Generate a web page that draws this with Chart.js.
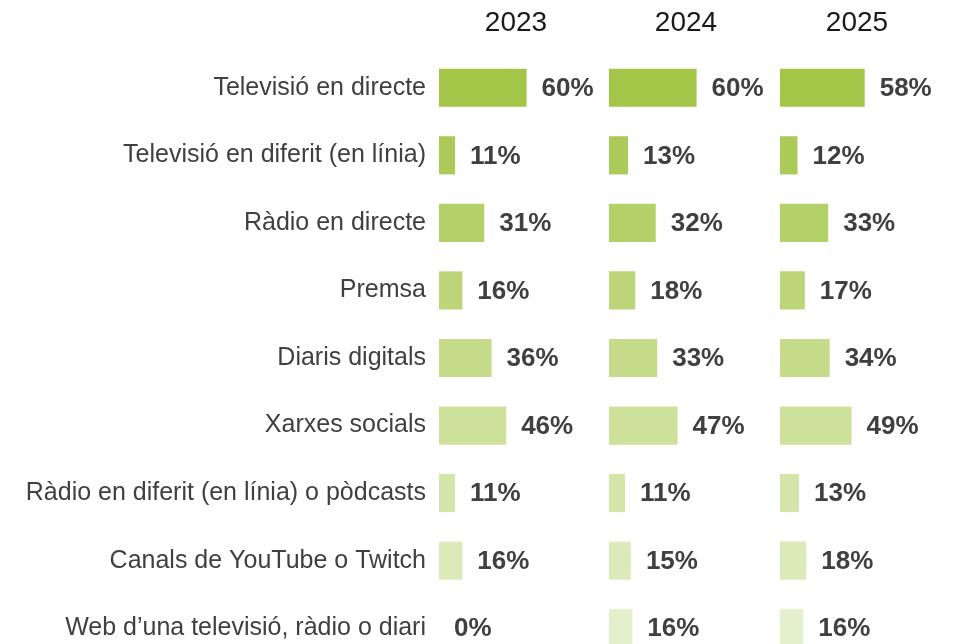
<!DOCTYPE html>
<html>
<head>
<meta charset="utf-8">
<script src="https://cdn.jsdelivr.net/npm/chart.js@4.4.1/dist/chart.umd.min.js"></script>
<style>
    html, body { margin: 0; padding: 0; background: #fff; overflow: hidden; }
    #wrap { position: relative; width: 959px; height: 644px; overflow: hidden; }
    .panel { position: absolute; top: 0; height: 662px; }
    #p2023 { left: 0; width: 609px; }
    #p2024 { left: 609px; width: 171px; }
    #p2025 { left: 780px; width: 179px; }
</style>
</head>
<body>
<div id="wrap">
    <div class="panel" id="p2023"><canvas id="chart2023"></canvas></div>
    <div class="panel" id="p2024"><canvas id="chart2024"></canvas></div>
    <div class="panel" id="p2025"><canvas id="chart2025"></canvas></div>
</div>
<script>
const categories = [
    'Televisió en directe',
    'Televisió en diferit (en línia)',
    'Ràdio en directe',
    'Premsa',
    'Diaris digitals',
    'Xarxes socials',
    'Ràdio en diferit (en línia) o pòdcasts',
    'Canals de YouTube o Twitch',
    'Web d\u2019una televisió, ràdio o diari'
];
const years = ['2023', '2024', '2025'];
const values2023 = [60, 11, 31, 16, 36, 46, 11, 16, 0];
const values2024 = [60, 13, 32, 18, 33, 47, 11, 15, 16];
const values2025 = [58, 12, 33, 17, 34, 49, 13, 18, 16];

// one shade per row, dark to light
const rowColors = ['#a3c649', '#abca58', '#b4d068', '#bcd578', '#c5db89', '#cde19a', '#d4e5a9', '#dceab9', '#e4efcb'];

const FONT = "'Liberation Sans', Arial, sans-serif";
const BAR_WIDTH = 146;          // px for 100%
const LABEL_WIDTH = 439;        // category label column of the first panel

const valueLabels = {
    id: 'valueLabels',
    afterDatasetsDraw(chart) {
        const ctx = chart.ctx;
        const ds = chart.data.datasets[0];
        ctx.save();
        ctx.font = 'bold 26px ' + FONT;
        ctx.fillStyle = '#404040';
        ctx.textAlign = 'left';
        ctx.textBaseline = 'middle';
        chart.getDatasetMeta(0).data.forEach((bar, i) => {
            ctx.fillText(ds.data[i] + '%', bar.x + 15, bar.y + 1);
        });
        ctx.restore();
    }
};

const yearTitle = {
    id: 'yearTitle',
    afterDraw(chart, args, opts) {
        const ctx = chart.ctx;
        const area = chart.chartArea;
        ctx.save();
        ctx.font = '28px ' + FONT;
        ctx.fillStyle = '#1a1a1a';
        ctx.textAlign = 'center';
        ctx.textBaseline = 'middle';
        ctx.fillText(opts.text, (area.left + area.right) / 2 + 4, 23);
        ctx.restore();
    }
};

function makeChart(canvasId, idx, values) {
    const showLabels = idx === 0;
    const canvas = document.getElementById(canvasId);
    const panelWidth = canvas.parentNode.clientWidth;
    return new Chart(canvas.getContext('2d'), {
        type: 'bar',
        data: {
            labels: categories,
            datasets: [{
                data: values,
                backgroundColor: rowColors,
                borderWidth: 0,
                categoryPercentage: 1,
                barPercentage: 0.565
            }]
        },
        plugins: [valueLabels, yearTitle],
        options: {
            indexAxis: 'y',
            responsive: true,
            maintainAspectRatio: false,
            animation: false,
            devicePixelRatio: 1,
            layout: {
                padding: {
                    top: 54,
                    bottom: 0,
                    left: 0,
                    right: panelWidth - BAR_WIDTH - (showLabels ? LABEL_WIDTH : 0)
                }
            },
            scales: {
                x: {
                    display: false,
                    min: 0,
                    max: 100
                },
                y: {
                    display: showLabels,
                    grid: { display: false, drawTicks: false },
                    border: { display: false },
                    ticks: {
                        padding: 13,
                        color: '#404040',
                        font: { size: 25, family: FONT }
                    },
                    afterFit: scale => {
                        scale.width = showLabels ? LABEL_WIDTH : 0;
                        scale.paddingTop = 0;
                        scale.paddingBottom = 0;
                    }
                }
            },
            plugins: {
                legend: { display: false },
                tooltip: { enabled: false },
                yearTitle: { text: years[idx] }
            }
        }
    });
}

makeChart('chart2023', 0, values2023);
makeChart('chart2024', 1, values2024);
makeChart('chart2025', 2, values2025);
</script>
</body>
</html>
